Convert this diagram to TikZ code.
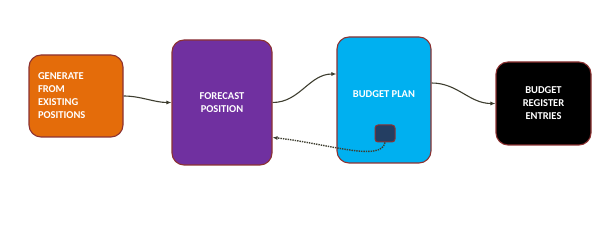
\documentclass[tikz,border=0pt]{standalone}
\usepackage{fontspec}
\setmainfont{Carlito}
\usepackage{tikz}
\usetikzlibrary{arrows.meta}

\definecolor{genorange}{RGB}{228,108,10}
\definecolor{fcpurple}{RGB}{112,48,160}
\definecolor{plancyan}{RGB}{0,176,240}
\definecolor{navybox}{RGB}{36,62,98}
\definecolor{rimred}{RGB}{140,50,50}
\definecolor{flowgray}{RGB}{62,62,48}

\begin{document}
\begin{tikzpicture}[x=1pt,y=1pt]
    \pgfmathsetmacro{\radius}{12}
    \tikzset{every node/.style={font=\fontsize{10.5}{13}\selectfont\bfseries, text=white}}
    \tikzset{stagebox/.style={draw=rimred, line width=1.1pt, rounded corners=\radius pt, inner sep=0pt}}
    \tikzset{flow/.style={draw=flowgray, line width=1.1pt, -{Latex[length=5pt,width=4pt]}}}
    \useasboundingbox (0,0) rectangle (614,235);
    \node[stagebox, fill=genorange, minimum width=94, minimum height=82, text width=76, align=left] (gen) at (76,139) {GENERATE\\FROM\\EXISTING\\POSITIONS};
\node[stagebox, fill=fcpurple, minimum width=100, minimum height=125, align=center] (fcast) at (222,132.5) {FORECAST\\POSITION};
\node[stagebox, fill=plancyan, minimum width=94, minimum height=126, text depth=12pt, align=center] (plan) at (384,135) {BUDGET PLAN};
\node[stagebox, fill=black, minimum width=95, minimum height=83, align=center] (reg) at (543.5,131.5) {BUDGET\\REGISTER\\ENTRIES};
\node[draw=rimred, line width=1pt, fill=navybox, rounded corners=3pt, minimum width=20, minimum height=17] (ctl) at (385,101.5) {};
\draw[flow] (gen.east) to[out=0,in=180,looseness=0.9] (fcast.west);
\draw[flow] (fcast.east) to[out=0,in=180] ([yshift=26pt]plan.west);
\draw[flow] ([yshift=17pt]plan.east) to[out=0,in=180] (reg.west);
\draw[flow, line width=1.4pt, densely dotted] (ctl.south) .. controls +(-4,-20) and +(55,-6) .. ([yshift=-35pt]fcast.east);

\end{tikzpicture}
\end{document}
